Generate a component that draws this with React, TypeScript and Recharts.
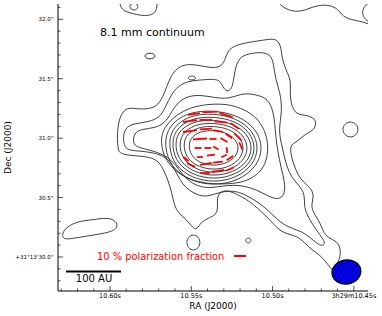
import React from "react";
import { ComposedChart, Line, Scatter, XAxis, YAxis } from "recharts";

// RA in seconds of 3h29m, Dec in arcsec of +31°13'
const raTicks = [10.45, 10.46, 10.47, 10.48, 10.49, 10.5, 10.51, 10.52, 10.53, 10.54, 10.55, 10.56, 10.57, 10.58, 10.59, 10.6, 10.61, 10.62, 10.63];
const raMajor = [10.45, 10.5, 10.55, 10.6];
const decTicks = [29.8, 29.9, 30.0, 30.1, 30.2, 30.3, 30.4, 30.5, 30.6, 30.7, 30.8, 30.9, 31.0, 31.1, 31.2, 31.3, 31.4, 31.5, 31.6, 31.7, 31.8, 31.9, 32.0, 32.1];
const decMajor = [30.0, 30.5, 31.0, 31.5, 32.0];

// 8.1 mm continuum contours, lowest level first
const lev1 = [[10.5951,30.900],[10.5957,31.027],[10.5945,31.170],[10.5902,31.262],[10.5834,31.245],[10.5754,31.245],[10.5705,31.279],[10.5675,31.346],[10.5650,31.438],[10.5625,31.523],[10.5588,31.590],[10.5533,31.624],[10.5459,31.615],[10.5379,31.590],[10.5318,31.598],[10.5293,31.657],[10.5275,31.741],[10.5226,31.783],[10.5139,31.809],[10.5053,31.825],[10.4980,31.842],[10.4949,31.783],[10.4943,31.674],[10.4918,31.573],[10.4887,31.489],[10.4893,31.388],[10.4887,31.287],[10.4857,31.195],[10.4783,31.195],[10.4727,31.153],[10.4740,31.069],[10.4801,31.035],[10.4850,30.968],[10.4893,30.942],[10.4887,30.858],[10.4869,30.774],[10.4844,30.690],[10.4807,30.623],[10.4758,30.572],[10.4746,30.505],[10.4764,30.438],[10.4746,30.362],[10.4709,30.295],[10.4691,30.219],[10.4660,30.160],[10.4604,30.135],[10.4580,30.068],[10.4586,29.984],[10.4611,29.916],[10.4629,29.874],[10.4660,29.942],[10.4709,30.017],[10.4758,30.059],[10.4801,30.118],[10.4850,30.177],[10.4912,30.194],[10.4961,30.228],[10.5010,30.303],[10.5072,30.387],[10.5152,30.480],[10.5213,30.522],[10.5275,30.564],[10.5330,30.547],[10.5342,30.480],[10.5336,30.413],[10.5349,30.354],[10.5392,30.329],[10.5441,30.295],[10.5465,30.228],[10.5490,30.244],[10.5527,30.312],[10.5582,30.371],[10.5607,30.446],[10.5619,30.538],[10.5644,30.648],[10.5675,30.749],[10.5705,30.808],[10.5754,30.841],[10.5828,30.850],[10.5902,30.858],[10.5939,30.875]];
const lev2 = [[10.5914,30.934],[10.5921,31.035],[10.5890,31.111],[10.5816,31.127],[10.5742,31.144],[10.5687,31.186],[10.5656,31.271],[10.5625,31.363],[10.5582,31.438],[10.5521,31.480],[10.5447,31.489],[10.5373,31.497],[10.5324,31.489],[10.5306,31.430],[10.5281,31.388],[10.5250,31.413],[10.5238,31.506],[10.5226,31.615],[10.5195,31.691],[10.5127,31.716],[10.5053,31.724],[10.5004,31.691],[10.4992,31.598],[10.4980,31.489],[10.4955,31.388],[10.4943,31.279],[10.4949,31.170],[10.4961,31.069],[10.4949,30.968],[10.4930,30.858],[10.4912,30.757],[10.4881,30.665],[10.4832,30.597],[10.4801,30.522],[10.4807,30.438],[10.4789,30.354],[10.4752,30.270],[10.4709,30.186],[10.4672,30.118],[10.4697,30.085],[10.4746,30.135],[10.4795,30.194],[10.4850,30.228],[10.4906,30.253],[10.4961,30.303],[10.5023,30.387],[10.5090,30.463],[10.5164,30.522],[10.5226,30.555],[10.5293,30.555],[10.5355,30.530],[10.5416,30.505],[10.5478,30.530],[10.5533,30.581],[10.5570,30.648],[10.5601,30.732],[10.5631,30.808],[10.5681,30.858],[10.5754,30.883],[10.5828,30.892],[10.5890,30.900]];
const lev3 = [[10.5859,30.959],[10.5853,31.043],[10.5804,31.077],[10.5724,31.085],[10.5662,31.127],[10.5625,31.212],[10.5582,31.304],[10.5521,31.354],[10.5447,31.363],[10.5373,31.346],[10.5293,31.329],[10.5226,31.354],[10.5170,31.379],[10.5090,31.363],[10.5029,31.329],[10.4998,31.237],[10.4986,31.127],[10.4980,31.001],[10.4967,30.883],[10.4949,30.757],[10.4924,30.631],[10.4924,30.522],[10.4967,30.480],[10.5029,30.513],[10.5096,30.564],[10.5170,30.597],[10.5244,30.606],[10.5312,30.597],[10.5379,30.581],[10.5447,30.589],[10.5508,30.631],[10.5558,30.698],[10.5595,30.774],[10.5644,30.841],[10.5711,30.883],[10.5785,30.909],[10.5834,30.926]];
const lev4 = [[10.5681,30.917],[10.5687,31.010],[10.5662,31.094],[10.5613,31.170],[10.5552,31.228],[10.5472,31.271],[10.5379,31.287],[10.5281,31.287],[10.5195,31.254],[10.5115,31.195],[10.5060,31.102],[10.5029,30.984],[10.5029,30.858],[10.5053,30.757],[10.5103,30.682],[10.5176,30.631],[10.5269,30.614],[10.5367,30.614],[10.5459,30.631],[10.5545,30.673],[10.5619,30.749],[10.5662,30.833]];
const lev5 = [[10.5058,30.917],[10.5098,30.758],[10.5209,30.642],[10.5361,30.599],[10.5513,30.642],[10.5624,30.758],[10.5665,30.917],[10.5650,31.092],[10.5528,31.220],[10.5361,31.235],[10.5209,31.192],[10.5098,31.076]];
const lev6 = [[10.5083,30.917],[10.5121,30.771],[10.5222,30.665],[10.5361,30.626],[10.5500,30.665],[10.5602,30.771],[10.5639,30.917],[10.5626,31.077],[10.5514,31.195],[10.5361,31.209],[10.5222,31.169],[10.5121,31.063]];
const lev7 = [[10.5103,30.917],[10.5137,30.785],[10.5232,30.688],[10.5361,30.652],[10.5490,30.688],[10.5585,30.785],[10.5619,30.917],[10.5607,31.063],[10.5503,31.170],[10.5361,31.182],[10.5232,31.147],[10.5137,31.050]];
const lev8 = [[10.5122,30.917],[10.5154,30.798],[10.5242,30.711],[10.5361,30.679],[10.5481,30.711],[10.5568,30.798],[10.5600,30.917],[10.5589,31.048],[10.5492,31.144],[10.5361,31.156],[10.5242,31.124],[10.5154,31.036]];
const lev9 = [[10.5148,30.917],[10.5177,30.811],[10.5254,30.733],[10.5361,30.705],[10.5468,30.733],[10.5546,30.811],[10.5574,30.917],[10.5564,31.034],[10.5478,31.119],[10.5361,31.129],[10.5254,31.101],[10.5177,31.023]];
const lev10 = [[10.5174,30.917],[10.5199,30.824],[10.5267,30.756],[10.5361,30.732],[10.5455,30.756],[10.5523,30.824],[10.5548,30.917],[10.5540,31.019],[10.5464,31.094],[10.5361,31.103],[10.5267,31.078],[10.5199,31.010]];
const lev11 = [[10.5206,30.917],[10.5227,30.842],[10.5284,30.787],[10.5361,30.767],[10.5439,30.787],[10.5495,30.842],[10.5516,30.917],[10.5509,30.999],[10.5446,31.060],[10.5361,31.067],[10.5284,31.047],[10.5227,30.992]];

// small isolated contours
const isleTop = [[10.5826,32.108],[10.5834,32.085],[10.5853,32.075],[10.5872,32.085],[10.5880,32.108],[10.5872,32.131],[10.5853,32.140],[10.5834,32.131]];
const isleNW = [[10.5720,31.691],[10.5730,31.673],[10.5754,31.665],[10.5778,31.673],[10.5788,31.691],[10.5778,31.709],[10.5754,31.717],[10.5730,31.709]];
const isleN = [[10.5472,31.506],[10.5479,31.493],[10.5496,31.488],[10.5513,31.493],[10.5520,31.506],[10.5513,31.519],[10.5496,31.525],[10.5479,31.519]];
const isleE = [[10.4470,31.073],[10.4485,31.024],[10.4521,31.004],[10.4557,31.024],[10.4572,31.073],[10.4557,31.122],[10.4521,31.142],[10.4485,31.122]];
const isleS = [[10.5443,30.122],[10.5456,30.073],[10.5487,30.053],[10.5518,30.073],[10.5531,30.122],[10.5518,30.171],[10.5487,30.191],[10.5456,30.171]];
const isleSE = [[10.5132,30.139],[10.5137,30.123],[10.5149,30.116],[10.5161,30.123],[10.5166,30.139],[10.5161,30.155],[10.5149,30.162],[10.5137,30.155]];
const isleSW = [[10.6296,30.177],[10.6283,30.228],[10.6246,30.270],[10.6185,30.303],[10.6111,30.312],[10.6037,30.329],[10.5982,30.320],[10.5951,30.278],[10.5964,30.228],[10.6025,30.202],[10.6099,30.186],[10.6173,30.169],[10.6246,30.152],[10.6283,30.152]];

// contours cut by the map edge
const edgeNE = [[10.4980,32.187],[10.4955,32.120],[10.4906,32.078],[10.4844,32.061],[10.4783,32.086],[10.4721,32.120],[10.4647,32.120],[10.4598,32.086],[10.4574,32.036],[10.4537,32.002],[10.4463,31.985],[10.4389,31.952]];
const cornerNE1 = [[10.4389,32.154],[10.4438,32.112],[10.4451,32.053],[10.4432,31.994],[10.4389,31.969]];
const cornerNE2 = [[10.4389,32.112],[10.4420,32.061],[10.4389,32.011]];
const edgeNW = [[10.5945,32.187],[10.5939,32.129],[10.5927,32.070],[10.5828,32.036],[10.5773,32.028],[10.5730,32.045],[10.5711,32.086],[10.5711,32.146],[10.5705,32.187]];

const closedContours = [lev1, lev2, lev3, lev4, lev5, lev6, lev7, lev8, lev9, lev10, lev11, isleTop, isleNW, isleN, isleE, isleS, isleSE, isleSW];
const openContours = [edgeNE, cornerNE1, cornerNE2, edgeNW];

// polarization vectors: position, position angle (deg E of N), fraction (%)
const polRa = [10.5484,10.5385,10.5287,10.5232,10.5508,10.5410,10.5318,10.5508,10.5410,10.5336,10.5269,10.5213,10.5447,10.5367,10.5299,10.5195,10.5459,10.5398,10.5349,10.5281,10.5533,10.5447,10.5379,10.5299,10.5502,10.5410,10.5336,10.5262,10.5416,10.5336,10.5262];
const polDec = [31.203,31.220,31.195,31.102,31.144,31.153,31.136,31.060,31.077,31.060,31.018,31.010,30.993,30.993,30.984,30.934,30.917,30.917,30.917,30.900,30.825,30.841,30.858,30.850,30.774,30.783,30.799,30.833,30.707,30.724,30.740];
const polPa = [99,93,73,55,98,90,84,98,94,79,55,45,94,90,60,25,90,90,60,5,50,90,97,115,65,100,96,125,90,99,115];
const polFrac = [10,12.5,11.7,8.3,11.7,10.8,10.8,11.7,10,8.3,6.7,8.3,11.7,5.8,6.7,6.7,5.8,5.8,5,5,5.8,5,6.7,5,7.5,10,8.3,6.7,8.3,10.8,6.7];

const beamPos = [{ x: 10.4546, y: 29.874 }];

const toXY = (pts: number[][]) => pts.map(([x, y]) => ({ x, y }));
const vectors = polRa.map((x, i) => ({ x, y: polDec[i], pa: polPa[i], p: polFrac[i] }));

const isMajor = (v: number, majors: number[]) => majors.some((m) => Math.abs(m - v) < 1e-6);
const raLabel = (v: number) => (Math.abs(v - 10.45) < 1e-6 ? "3h29m10.45s" : v.toFixed(2) + "s");
const decLabel = (v: number) => (Math.abs(v - 30) < 1e-6 ? "+31°13'30.0\"" : v.toFixed(1) + "\"");

const PX_PER_PERCENT = 1.2;

function RaTick(props: any) {
  const { x, y, payload, side } = props;
  const major = isMajor(payload.value, raMajor);
  const len = major ? 5 : 2.5;
  const dir = side === "top" ? 1 : -1;
  return (
    <g>
      <line x1={x} x2={x} y1={y} y2={y + dir * len} stroke="#000" strokeWidth={0.7} />
      {side !== "top" && major && (
        <text x={x} y={y + 7} textAnchor="middle" fontSize={6.5} fill="#000">
          {raLabel(payload.value)}
        </text>
      )}
    </g>
  );
}

function DecTick(props: any) {
  const { x, y, payload, side } = props;
  const major = isMajor(payload.value, decMajor);
  const len = major ? 5 : 2.5;
  const dir = side === "right" ? -1 : 1;
  return (
    <g>
      <line x1={x} x2={x + dir * len} y1={y} y2={y} stroke="#000" strokeWidth={0.7} />
      {side !== "right" && major && (
        <text x={x - 4.5} y={y} dy="0.35em" textAnchor="end" fontSize={5.6} fill="#000">
          {decLabel(payload.value)}
        </text>
      )}
    </g>
  );
}

function VectorShape(props: any) {
  const { cx, cy, payload } = props;
  const half = (payload.p * PX_PER_PERCENT) / 2;
  const t = (payload.pa * Math.PI) / 180;
  const dx = -Math.sin(t) * half;
  const dy = -Math.cos(t) * half;
  return <line x1={cx - dx} y1={cy - dy} x2={cx + dx} y2={cy + dy} stroke="#ff0000" strokeWidth={1.8} />;
}

// beam ellipse with "/" hatching, chords computed inside the ellipse
function BeamShape(props: any) {
  const { cx, cy } = props;
  const a = 14.5;
  const b = 12;
  const chords: React.ReactNode[] = [];
  const A = 1 / (a * a) + 1 / (b * b);
  for (let c = -18; c <= 18; c += 6) {
    // local line x + y = c, i.e. y = c - x (runs up to the right on screen)
    const B = (-2 * c) / (b * b);
    const C = (c * c) / (b * b) - 1;
    const disc = B * B - 4 * A * C;
    if (disc <= 0) continue;
    const t1 = (-B - Math.sqrt(disc)) / (2 * A);
    const t2 = (-B + Math.sqrt(disc)) / (2 * A);
    chords.push(
      <line key={c} x1={cx + t1} y1={cy + c - t1} x2={cx + t2} y2={cy + c - t2} stroke="#000" strokeWidth={0.6} />
    );
  }
  return (
    <g transform={`rotate(-10 ${cx} ${cy})`}>
      <ellipse cx={cx} cy={cy} rx={a} ry={b} fill="#0000ff" />
      {chords}
      <ellipse cx={cx} cy={cy} rx={a} ry={b} fill="none" stroke="#000" strokeWidth={1.2} />
    </g>
  );
}

const raDomain: [number, number] = [10.4413, 10.632];
const decDomain: [number, number] = [29.714, 32.1287];

export default function App() {
  return (
    <div style={{ position: "absolute", left: 0, top: 0, width: 382, height: 316, background: "#fff", fontFamily: "DejaVu Sans" }}>
      <ComposedChart width={382} height={316} margin={{ top: 4, right: 14, bottom: 0, left: 0 }}>
        <XAxis
          dataKey="x"
          type="number"
          domain={raDomain}
          reversed
          allowDataOverflow
          ticks={raTicks}
          interval={0}
          height={25}
          tickSize={0}
          tickMargin={0}
          tickLine={false}
          axisLine={{ stroke: "#000", strokeWidth: 1 }}
          tick={(p: any) => <RaTick {...p} side="bottom" />}
          label={{ value: "RA (J2000)", position: "insideBottom", offset: 7.5, fontSize: 9, fill: "#000" }}
        />
        <XAxis
          xAxisId="top"
          orientation="top"
          dataKey="x"
          type="number"
          domain={raDomain}
          reversed
          allowDataOverflow
          ticks={raTicks}
          interval={0}
          height={0}
          tickSize={0}
          tickMargin={0}
          tickLine={false}
          axisLine={{ stroke: "#000", strokeWidth: 1 }}
          tick={(p: any) => <RaTick {...p} side="top" />}
        />
        <YAxis
          dataKey="y"
          type="number"
          domain={decDomain}
          allowDataOverflow
          ticks={decTicks}
          interval={0}
          width={58}
          tickSize={0}
          tickMargin={0}
          tickLine={false}
          axisLine={{ stroke: "#000", strokeWidth: 1 }}
          tick={(p: any) => <DecTick {...p} side="left" />}
          label={{ value: "Dec (J2000)", angle: -90, position: "insideLeft", offset: 7.5, fontSize: 9, fill: "#000", style: { textAnchor: "middle" } }}
        />
        <YAxis
          yAxisId="right"
          orientation="right"
          dataKey="y"
          type="number"
          domain={decDomain}
          allowDataOverflow
          ticks={decTicks}
          interval={0}
          width={0}
          tickSize={0}
          tickMargin={0}
          tickLine={false}
          axisLine={{ stroke: "#000", strokeWidth: 1 }}
          tick={(p: any) => <DecTick {...p} side="right" />}
        />
        {closedContours.map((c, i) => (
          <Line
            key={"c" + i}
            data={toXY(c)}
            dataKey="y"
            type="basisClosed"
            stroke="#2a2a2a"
            strokeWidth={0.9}
            dot={false}
            activeDot={false}
            legendType="none"
            isAnimationActive={false}
          />
        ))}
        {openContours.map((c, i) => (
          <Line
            key={"o" + i}
            data={toXY(c)}
            dataKey="y"
            type="basis"
            stroke="#2a2a2a"
            strokeWidth={0.9}
            dot={false}
            activeDot={false}
            legendType="none"
            isAnimationActive={false}
          />
        ))}
        <Scatter data={vectors} dataKey="y" shape={VectorShape} isAnimationActive={false} legendType="none" />
        <Scatter data={beamPos} dataKey="y" shape={BeamShape} isAnimationActive={false} legendType="none" />
      </ComposedChart>
      <svg width={382} height={316} style={{ position: "absolute", left: 0, top: 0, pointerEvents: "none" }}>
        <text x={100} y={36} fontSize={11} fill="#000">8.1 mm continuum</text>
        <text x={97} y={259.5} fontSize={9.9} fill="#ff0000">10 % polarization fraction</text>
        <line x1={234} x2={246} y1={256} y2={256} stroke="#ff0000" strokeWidth={2} />
        <line x1={66} x2={121} y1={271.5} y2={271.5} stroke="#000" strokeWidth={2} />
        <text x={94} y={282} fontSize={10} textAnchor="middle" fill="#000">100 AU</text>
      </svg>
    </div>
  );
}
